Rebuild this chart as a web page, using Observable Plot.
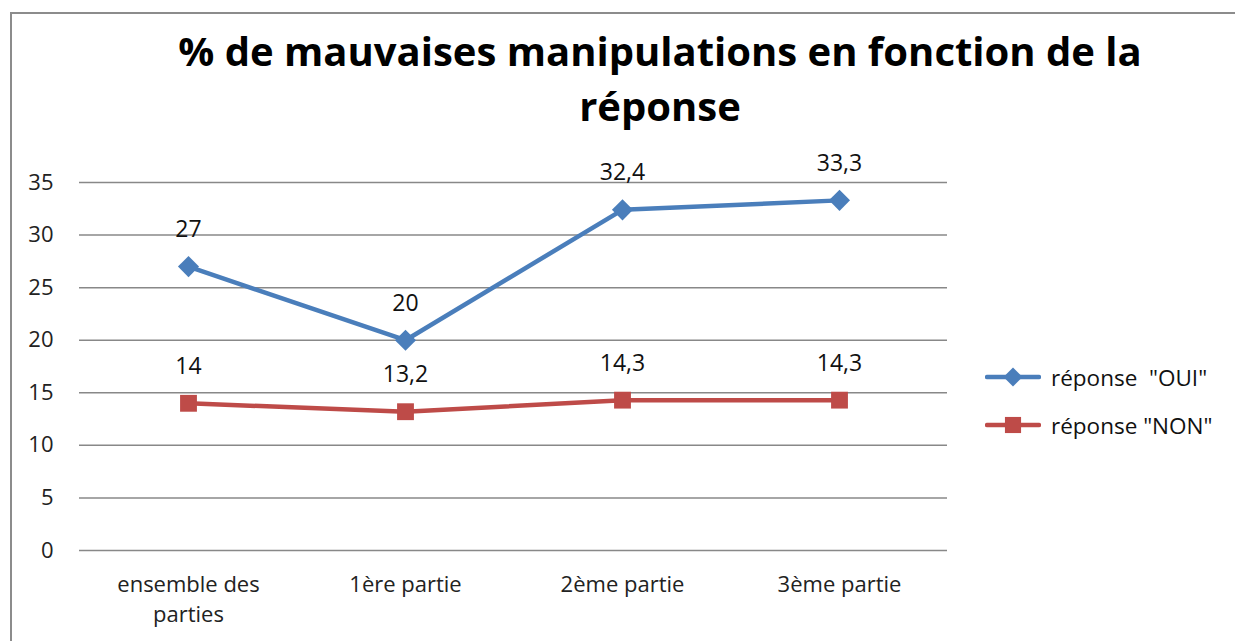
<!DOCTYPE html>
<html>
<head>
<meta charset="utf-8">
<script src="https://cdn.jsdelivr.net/npm/d3@7"></script>
<script src="https://cdn.jsdelivr.net/npm/@observablehq/plot@0.6"></script>
<style>
  html, body { margin: 0; padding: 0; background: #fff; }
  #wrap { position: relative; width: 1235px; height: 641px; overflow: hidden; font-family: "Open Sans", Lato, sans-serif; }
  #frame { position: absolute; left: 10px; top: 12px; width: 1240px; height: 640px; border: 2px solid #8c8c8c; box-sizing: border-box; }
  #title { position: absolute; left: 80px; width: 1160px; top: 23px; text-align: center; font-family: "Open Sans", sans-serif; font-weight: 700; font-size: 40px; line-height: 55px; color: #000; }
  #chart { position: absolute; left: 0; top: 0; }
  #legend { position: absolute; left: 985px; top: 353px; font-family: "Open Sans", sans-serif; font-size: 22.5px; color: #111; }
  .item { display: flex; align-items: center; height: 48px; }
  .item svg { margin-right: 10px; }
</style>
</head>
<body>
<div id="wrap">
  <div id="frame"></div>
  <div id="chart"></div>
  <div id="title">% de mauvaises manipulations en fonction de la<br>réponse</div>
  <div id="legend"></div>
</div>
<script>
const categories = ["ensemble des parties", "1ère partie", "2ème partie", "3ème partie"];
const tickLabels = ["ensemble des\nparties", "1ère partie", "2ème partie", "3ème partie"];
const seriesNames = ["réponse  \"OUI\"", "réponse \"NON\""];
const ouiValues = [27, 20, 32.4, 33.3];
const nonValues = [14, 13.2, 14.3, 14.3];
const yTicks = [0, 5, 10, 15, 20, 25, 30, 35];

const colors = ["#4a7ebb", "#be4b48"];
const symbols = ["diamond2", "square"];

const data = [];
categories.forEach((c, i) => {
  data.push({cat: c, value: ouiValues[i], series: seriesNames[0]});
  data.push({cat: c, value: nonValues[i], series: seriesNames[1]});
});
const fmt = v => String(v).replace(".", ",");

const chart = Plot.plot({
  width: 1235,
  height: 641,
  marginLeft: 79,
  marginRight: 288,
  marginTop: 182,
  marginBottom: 91,
  style: {fontFamily: "'Open Sans', sans-serif", fontSize: "22px", color: "#222", background: "transparent"},
  x: {type: "point", domain: categories, padding: 0.5, label: null},
  y: {domain: [0, 35], label: null},
  color: {domain: seriesNames, range: colors},
  symbol: {domain: seriesNames, range: symbols},
  marks: [
    Plot.ruleY(yTicks, {stroke: "#888", strokeWidth: 1.5, strokeOpacity: 1}),
    Plot.axisY({ticks: yTicks, tickSize: 0, tickPadding: 26, fontSize: 22, label: null}),
    Plot.axisX({tickSize: 0, tickPadding: 20, fontSize: 22, label: null, lineHeight: 1.36,
      tickFormat: d => tickLabels[categories.indexOf(d)]}),
    Plot.line(data, {x: "cat", y: "value", z: "series", stroke: "series", strokeWidth: 4.5}),
    Plot.dot(data, {x: "cat", y: "value", symbol: "series", fill: "series", r: 9.5, stroke: "none"}),
    Plot.text(data, {x: "cat", y: "value", text: d => fmt(d.value), dy: -37, fontSize: 23, fill: "#111"})
  ]
});
document.getElementById("chart").appendChild(chart);

// Legend
const legend = d3.select("#legend");
seriesNames.forEach((name, i) => {
  const item = legend.append("div").attr("class", "item");
  const svg = item.append("svg").attr("width", 56).attr("height", 24);
  svg.append("line").attr("x1", 2).attr("x2", 54).attr("y1", 12).attr("y2", 12)
    .attr("stroke", colors[i]).attr("stroke-width", 4.5).attr("stroke-linecap", "round");
  svg.append("path").attr("transform", "translate(28,12)")
    .attr("d", d3.symbol(i === 0 ? d3.symbolDiamond2 : d3.symbolSquare, i === 0 ? 230 : 260)())
    .attr("fill", colors[i]);
  item.append("span").text(name).style("white-space", "pre");
});
</script>
</body>
</html>
